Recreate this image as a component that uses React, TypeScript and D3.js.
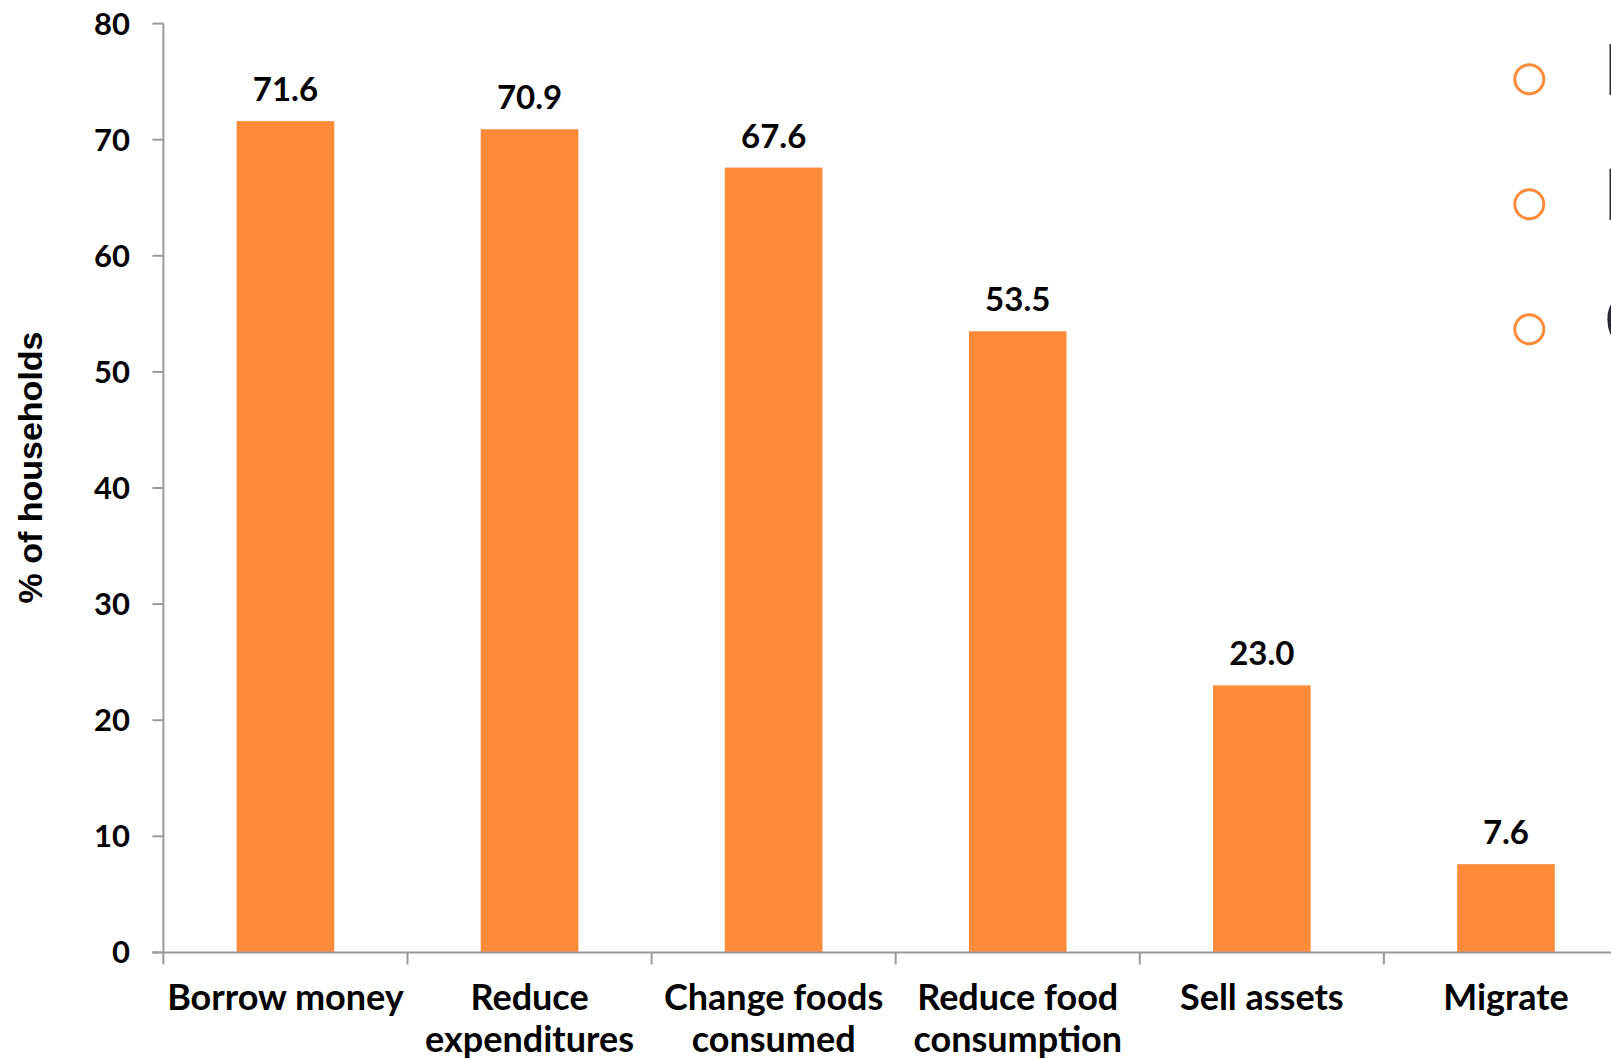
import React from "react";
import * as d3 from "d3";

const categories: string[][] = [
  ["Borrow money"],
  ["Reduce", "expenditures"],
  ["Change foods", "consumed"],
  ["Reduce food", "consumption"],
  ["Sell assets"],
  ["Migrate"],
];
const values: number[] = [71.6, 70.9, 67.6, 53.5, 23.0, 7.6];
const yTicks: number[] = [0, 10, 20, 30, 40, 50, 60, 70, 80];
const bulletLetters: string[] = ["P", "R", "C"];

const W = 1611;
const H = 1059;
const ORANGE = "#FF8A3A";
const AXIS = "#9a9a9a";
const FONT = "Lato, 'Open Sans', sans-serif";

export default function App() {
  const keys = categories.map((c) => c.join(" "));
  const x0 = 163.4;
  const step = 244.1;
  const x = d3
    .scaleBand<string>()
    .domain(keys)
    .range([x0, x0 + step * keys.length])
    .paddingInner(0.6)
    .paddingOuter(0.3);
  const y = d3.scaleLinear().domain([0, 80]).range([952.4, 23.6]);
  const bulletY = d3.scaleLinear().domain([0, 1]).range([79.3, 204.3]);

  return (
    <svg
      width={W}
      height={H}
      style={{ position: "absolute", left: 0, top: 0, display: "block", background: "#fff" }}
    >
      {/* bars */}
      {values.map((v, i) => (
        <rect
          key={keys[i]}
          x={x(keys[i])!}
          y={y(v)}
          width={x.bandwidth()}
          height={y(0) - y(v)}
          fill={ORANGE}
        />
      ))}
      {/* value labels */}
      {values.map((v, i) => (
        <text
          key={"v" + i}
          x={x(keys[i])! + x.bandwidth() / 2}
          y={y(v) - 20}
          textAnchor="middle"
          fontFamily={FONT}
          fontWeight={700}
          fontSize={33}
          fill="#000"
        >
          {v.toFixed(1)}
        </text>
      ))}
      {/* y axis */}
      <line x1={x0} x2={x0} y1={y(80)} y2={y(0)} stroke={AXIS} strokeWidth={2} />
      {yTicks.map((t) => (
        <g key={"t" + t}>
          <line x1={x0 - 11} x2={x0} y1={y(t)} y2={y(t)} stroke={AXIS} strokeWidth={2} />
          <text
            x={130}
            y={y(t) + 11}
            textAnchor="end"
            fontFamily={FONT}
            fontWeight={700}
            fontSize={31}
            fill="#000"
          >
            {t}
          </text>
        </g>
      ))}
      {/* x axis */}
      <line x1={x0 - 11} x2={W} y1={y(0)} y2={y(0)} stroke={AXIS} strokeWidth={2} />
      {keys.map((k, i) => (
        <line
          key={"xt" + i}
          x1={x0 + i * step}
          x2={x0 + i * step}
          y1={y(0)}
          y2={y(0) + 12}
          stroke={AXIS}
          strokeWidth={2}
        />
      ))}
      {categories.map((lines, i) => (
        <text
          key={"c" + i}
          x={x(keys[i])! + x.bandwidth() / 2}
          y={1010}
          textAnchor="middle"
          fontFamily={FONT}
          fontWeight={700}
          fontSize={36}
          fill="#000"
        >
          {lines.map((ln, j) => (
            <tspan key={j} x={x(keys[i])! + x.bandwidth() / 2} dy={j === 0 ? 0 : 42}>
              {ln}
            </tspan>
          ))}
        </text>
      ))}
      {/* y axis title */}
      <text
        transform={`translate(42, ${467.5}) rotate(-90)`}
        textAnchor="middle"
        fontFamily="'Liberation Sans', Arial, sans-serif"
        fontWeight={700}
        fontSize={34}
        fill="#000"
      >
        % of households
      </text>
      {/* clipped bullet list on the right */}
      {bulletLetters.map((b, i) => {
        const cy = 79.3 + i * (bulletY(1) - bulletY(0));
        return (
          <g key={"b" + i}>
            <circle cx={1529.3} cy={cy} r={14.5} fill="none" stroke={ORANGE} strokeWidth={3} />
            <text
              x={b === "C" ? 1603 : 1602.5}
              y={cy + 16}
              fontFamily="'Open Sans', sans-serif"
              fontSize={72}
              fill="#262635"
            >
              {b}
            </text>
          </g>
        );
      })}
    </svg>
  );
}
